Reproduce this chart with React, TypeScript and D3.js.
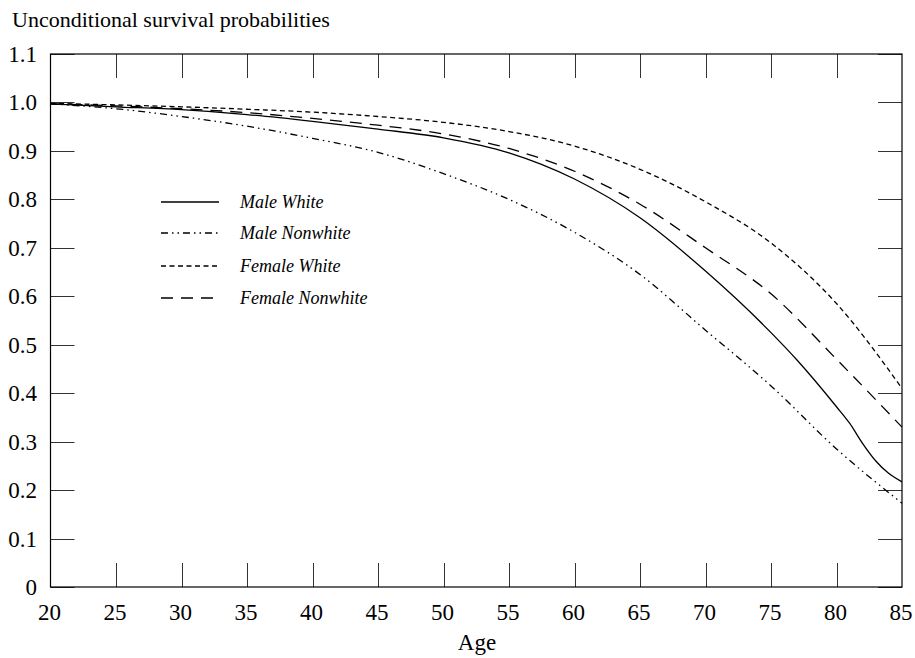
import React from "react";
import * as d3 from "d3";

// values
const ageGrid = [20, 25, 30, 35, 40, 45, 50, 55, 60, 65, 70, 75, 80, 85];
const maleWhiteAges = [20, 25, 30, 35, 40, 45, 50, 55, 60, 65, 70, 75, 77, 80, 81, 82, 83, 84, 85];
const maleWhite = [0.997, 0.991, 0.985, 0.975, 0.961, 0.945, 0.927, 0.896, 0.842, 0.762, 0.652, 0.525, 0.468, 0.372, 0.338, 0.296, 0.26, 0.234, 0.217];
const maleNonwhite = [0.997, 0.987, 0.971, 0.951, 0.926, 0.897, 0.853, 0.8, 0.732, 0.645, 0.53, 0.415, 0.285, 0.173];
const femaleWhite = [0.998, 0.995, 0.991, 0.986, 0.98, 0.971, 0.959, 0.94, 0.91, 0.862, 0.795, 0.71, 0.585, 0.41];
const femaleNonwhite = [0.997, 0.993, 0.987, 0.979, 0.967, 0.953, 0.935, 0.905, 0.858, 0.79, 0.7, 0.605, 0.47, 0.33];

const xTicks = [20, 25, 30, 35, 40, 45, 50, 55, 60, 65, 70, 75, 80, 85];
const yTicks = [0, 0.1, 0.2, 0.3, 0.4, 0.5, 0.6, 0.7, 0.8, 0.9, 1.0, 1.1];

const series = [
  { name: "Male White", ages: maleWhiteAges, values: maleWhite, dash: "none" },
  { name: "Male Nonwhite", ages: ageGrid, values: maleNonwhite, dash: "7,4,1.5,4,1.5,4" },
  { name: "Female White", ages: ageGrid, values: femaleWhite, dash: "5,3.5" },
  { name: "Female Nonwhite", ages: ageGrid, values: femaleNonwhite, dash: "12,8" },
];

const W = 915, H = 658;
const left = 50.5, right = 902, top = 54, bottom = 587;
const font = "'Liberation Serif', 'Times New Roman', serif";

export default function App() {
  const x = d3.scaleLinear().domain([20, 85]).range([left, right]);
  const y = d3.scaleLinear().domain([0, 1.1]).range([bottom, top]);
  const tickLen = 24;

  const line = d3.line<[number, number]>()
    .x(d => x(d[0]))
    .y(d => y(d[1]))
    .curve(d3.curveMonotoneX);

  return (
    <svg width={W} height={H} style={{ position: "absolute", left: 0, top: 0, background: "#fff" }}
      fontFamily={font}>
      <text x={12} y={27} fontSize={22}>Unconditional survival probabilities</text>

      {/* ticks, inward on all sides */}
      <g stroke="#333" strokeWidth={1}>
        {xTicks.slice(1, -1).map(t => (
          <g key={"x" + t}>
            <line x1={Math.round(x(t)) + 0.5} x2={Math.round(x(t)) + 0.5} y1={bottom} y2={bottom - tickLen} />
            <line x1={Math.round(x(t)) + 0.5} x2={Math.round(x(t)) + 0.5} y1={top} y2={top + tickLen} />
          </g>
        ))}
        {yTicks.map(t => (
          <g key={"y" + t}>
            <line x1={left} x2={left + tickLen} y1={Math.round(y(t)) + 0.5} y2={Math.round(y(t)) + 0.5} />
            <line x1={right} x2={right - tickLen} y1={Math.round(y(t)) + 0.5} y2={Math.round(y(t)) + 0.5} />
          </g>
        ))}
      </g>
      <rect x={left} y={top} width={right - left} height={bottom - top} fill="none" stroke="#000" strokeWidth={1.2} />

      {/* tick labels */}
      {xTicks.map(t => (
        <text key={"xl" + t} x={x(t) - 1} y={620} fontSize={23} textAnchor="middle">{t}</text>
      ))}
      {yTicks.map(t => (
        <text key={"yl" + t} x={37} y={y(t) + 8} fontSize={23} textAnchor="end">
          {t === 0 ? "0" : d3.format(".1f")(t)}
        </text>
      ))}
      <text x={477} y={650} fontSize={23} textAnchor="middle">Age</text>

      {/* curves */}
      {series.map(s => (
        <path key={s.name}
          d={line(s.ages.map((a, i) => [a, s.values[i]] as [number, number])) || ""}
          fill="none" stroke="#000" strokeWidth={1.3} strokeDasharray={s.dash} />
      ))}

      {/* legend */}
      {series.map((s, i) => {
        const ly = [202, 233, 266, 298][i];
        return (
          <g key={"lg" + s.name}>
            <line x1={161} x2={219} y1={ly} y2={ly} stroke="#000" strokeWidth={1.3} strokeDasharray={s.dash} />
            <text x={240} y={ly + 6} fontSize={18} fontStyle="italic">{s.name}</text>
          </g>
        );
      })}
    </svg>
  );
}
